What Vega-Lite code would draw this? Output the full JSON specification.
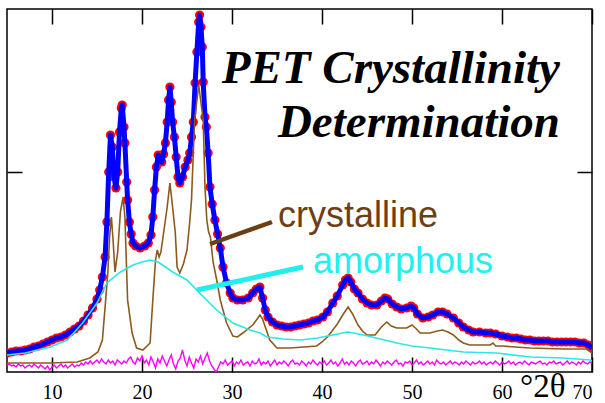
{
  "$schema": "https://vega.github.io/schema/vega-lite/v6.json",
  "width": 585,
  "height": 363,
  "autosize": {"type": "none"},
  "padding": {"left": 7, "top": 9, "right": 13, "bottom": 31},
  "background": "white",
  "config": {
    "view": {"stroke": "black", "strokeWidth": 1.5},
    "axis": {"grid": false, "domain": false, "tickColor": "black", "tickWidth": 1.5, "tickSize": -15, "labelFont": "Liberation Serif", "labelFontSize": 20, "labelColor": "black", "title": null, "labelPadding": 25}
  },
  "datasets": {
    "obs": [
      {"x":5.0,"y":19},{"x":5.5,"y":20},{"x":6.0,"y":21},{"x":6.5,"y":21},{"x":7.0,"y":22},{"x":7.5,"y":23},{"x":8.0,"y":25},{"x":8.5,"y":26},{"x":9.0,"y":28},{"x":9.5,"y":30},{"x":10.0,"y":32},{"x":10.5,"y":34},{"x":11.0,"y":35},{"x":11.5,"y":37},{"x":12.0,"y":40},{"x":12.5,"y":43},{"x":13.0,"y":46},{"x":13.5,"y":51},{"x":14.0,"y":57},{"x":14.5,"y":64},{"x":15.0,"y":73},{"x":15.3,"y":82},{"x":15.6,"y":95},{"x":15.9,"y":115},{"x":16.1,"y":150},{"x":16.3,"y":200},{"x":16.5,"y":237},{"x":16.7,"y":225},{"x":16.9,"y":195},{"x":17.1,"y":184},{"x":17.3,"y":200},{"x":17.5,"y":240},{"x":17.7,"y":264},{"x":17.8,"y":267},{"x":18.0,"y":245},{"x":18.1,"y":229},{"x":18.3,"y":190},{"x":18.4,"y":172},{"x":18.6,"y":150},{"x":18.8,"y":138},{"x":19.0,"y":129},{"x":19.3,"y":126},{"x":19.8,"y":124},{"x":20.3,"y":126},{"x":20.7,"y":129},{"x":21.0,"y":137},{"x":21.2,"y":155},{"x":21.4,"y":182},{"x":21.6,"y":205},{"x":21.8,"y":217},{"x":22.0,"y":213},{"x":22.2,"y":210},{"x":22.4,"y":218},{"x":22.6,"y":229},{"x":22.8,"y":250},{"x":22.95,"y":272},{"x":23.1,"y":285},{"x":23.25,"y":270},{"x":23.4,"y":250},{"x":23.6,"y":235},{"x":23.8,"y":215},{"x":24.0,"y":195},{"x":24.2,"y":189},{"x":24.5,"y":195},{"x":24.8,"y":205},{"x":25.1,"y":212},{"x":25.3,"y":219},{"x":25.5,"y":235},{"x":25.7,"y":250},{"x":25.9,"y":289},{"x":26.1,"y":320},{"x":26.3,"y":350},{"x":26.4,"y":357},{"x":26.55,"y":345},{"x":26.7,"y":325},{"x":26.8,"y":290},{"x":27.0,"y":255},{"x":27.15,"y":245},{"x":27.35,"y":219},{"x":27.55,"y":185},{"x":27.8,"y":168},{"x":28.1,"y":152},{"x":28.4,"y":138},{"x":28.7,"y":124},{"x":29.0,"y":105},{"x":29.4,"y":89},{"x":29.8,"y":79},{"x":30.1,"y":74},{"x":30.6,"y":72},{"x":31.2,"y":72},{"x":31.8,"y":74},{"x":32.3,"y":79},{"x":32.7,"y":83},{"x":33.1,"y":85},{"x":33.4,"y":74},{"x":33.7,"y":62},{"x":34.0,"y":55},{"x":34.5,"y":50},{"x":35.0,"y":47},{"x":35.5,"y":46},{"x":36.0,"y":45},{"x":36.5,"y":45},{"x":37.0,"y":46},{"x":37.5,"y":47},{"x":38.0,"y":48},{"x":38.5,"y":49},{"x":39.0,"y":51},{"x":39.5,"y":52},{"x":40.1,"y":55},{"x":40.6,"y":60},{"x":41.2,"y":69},{"x":41.7,"y":76},{"x":42.3,"y":87},{"x":42.6,"y":92},{"x":42.9,"y":94},{"x":43.2,"y":90},{"x":43.6,"y":83},{"x":44.0,"y":79},{"x":44.5,"y":73},{"x":45.0,"y":69},{"x":45.5,"y":67},{"x":46.1,"y":67},{"x":46.6,"y":71},{"x":47.0,"y":74},{"x":47.3,"y":73},{"x":47.8,"y":68},{"x":48.3,"y":65},{"x":48.8,"y":63},{"x":49.4,"y":64},{"x":49.9,"y":66},{"x":50.2,"y":64},{"x":50.6,"y":58},{"x":51.2,"y":54},{"x":51.8,"y":55},{"x":52.3,"y":57},{"x":52.9,"y":60},{"x":53.4,"y":60},{"x":53.9,"y":58},{"x":54.6,"y":54},{"x":55.2,"y":49},{"x":55.7,"y":45},{"x":56.3,"y":42},{"x":56.8,"y":40},{"x":57.5,"y":40},{"x":58.2,"y":39},{"x":58.7,"y":39},{"x":59.3,"y":38},{"x":60.0,"y":36},{"x":60.6,"y":35},{"x":61.1,"y":34},{"x":61.6,"y":34},{"x":62.1,"y":33},{"x":62.6,"y":32},{"x":63.1,"y":32},{"x":63.6,"y":31},{"x":64.1,"y":31},{"x":64.6,"y":31},{"x":65.1,"y":31},{"x":65.6,"y":30},{"x":66.1,"y":30},{"x":66.6,"y":30},{"x":67.1,"y":30},{"x":67.6,"y":30},{"x":68.1,"y":30},{"x":68.6,"y":29},{"x":69.1,"y":29},{"x":69.6,"y":27},{"x":70.0,"y":24}
    ],
    "cry": [
      {"x":5.0,"y":9},{"x":7.0,"y":9},{"x":9.8,"y":9},{"x":12.8,"y":10},{"x":14.2,"y":14},{"x":15.1,"y":20},{"x":15.6,"y":32},{"x":15.9,"y":65},{"x":16.2,"y":99},{"x":16.4,"y":135},{"x":16.6,"y":155},{"x":16.8,"y":130},{"x":17.0,"y":100},{"x":17.3,"y":120},{"x":17.6,"y":160},{"x":17.9,"y":175},{"x":18.1,"y":155},{"x":18.4,"y":72},{"x":18.9,"y":39},{"x":19.4,"y":24},{"x":20.1,"y":22},{"x":20.9,"y":29},{"x":21.2,"y":72},{"x":21.5,"y":112},{"x":21.7,"y":122},{"x":21.9,"y":115},{"x":22.1,"y":120},{"x":22.4,"y":139},{"x":22.8,"y":165},{"x":23.1,"y":189},{"x":23.4,"y":165},{"x":23.7,"y":139},{"x":23.9,"y":105},{"x":24.2,"y":99},{"x":24.6,"y":108},{"x":25.0,"y":122},{"x":25.3,"y":150},{"x":25.5,"y":172},{"x":25.7,"y":219},{"x":25.85,"y":252},{"x":26.3,"y":287},{"x":26.8,"y":252},{"x":27.0,"y":185},{"x":27.2,"y":152},{"x":27.4,"y":140},{"x":27.6,"y":135},{"x":27.9,"y":110},{"x":28.3,"y":92},{"x":28.7,"y":72},{"x":29.0,"y":62},{"x":29.4,"y":49},{"x":30.1,"y":36},{"x":30.6,"y":35},{"x":31.2,"y":39},{"x":32.3,"y":47},{"x":32.8,"y":53},{"x":33.1,"y":57},{"x":33.4,"y":53},{"x":33.7,"y":45},{"x":34.2,"y":32},{"x":35.0,"y":24},{"x":36.4,"y":24},{"x":38.0,"y":25},{"x":39.4,"y":26},{"x":40.0,"y":30},{"x":40.6,"y":35},{"x":41.2,"y":42},{"x":41.7,"y":48},{"x":42.3,"y":57},{"x":42.9,"y":65},{"x":43.4,"y":58},{"x":44.0,"y":47},{"x":44.5,"y":41},{"x":45.0,"y":37},{"x":45.9,"y":37},{"x":46.6,"y":45},{"x":47.2,"y":50},{"x":47.7,"y":46},{"x":48.3,"y":44},{"x":49.4,"y":44},{"x":50.0,"y":47},{"x":50.5,"y":43},{"x":50.9,"y":39},{"x":52.0,"y":39},{"x":52.8,"y":41},{"x":53.4,"y":42},{"x":54.0,"y":40},{"x":54.6,"y":37},{"x":55.2,"y":32},{"x":55.7,"y":29},{"x":56.4,"y":27},{"x":58.7,"y":27},{"x":59.0,"y":29},{"x":59.3,"y":26},{"x":60.0,"y":26},{"x":63.1,"y":24},{"x":66.8,"y":23},{"x":69.4,"y":23},{"x":70.0,"y":19}
    ],
    "amo": [
      {"x":5.0,"y":17},{"x":7.0,"y":19},{"x":9.8,"y":25},{"x":11.7,"y":32},{"x":13.4,"y":49},{"x":15.0,"y":69},{"x":16.1,"y":89},{"x":17.6,"y":100},{"x":19.0,"y":107},{"x":20.0,"y":110},{"x":20.9,"y":112},{"x":21.8,"y":110},{"x":22.6,"y":105},{"x":23.4,"y":100},{"x":25.0,"y":92},{"x":26.4,"y":79},{"x":28.3,"y":62},{"x":30.1,"y":49},{"x":32.0,"y":42},{"x":33.1,"y":39},{"x":33.9,"y":35},{"x":35.7,"y":33},{"x":37.6,"y":32},{"x":39.5,"y":34},{"x":41.2,"y":37},{"x":42.8,"y":40},{"x":43.5,"y":39},{"x":44.6,"y":37},{"x":46.5,"y":33},{"x":48.3,"y":29},{"x":50.0,"y":26},{"x":52.0,"y":24},{"x":55.7,"y":20},{"x":59.4,"y":19},{"x":63.1,"y":15},{"x":66.8,"y":14},{"x":69.8,"y":12},{"x":70.0,"y":11}
    ],
    "res": [
      {"x":5.0,"y":7},{"x":5.25,"y":8},{"x":5.5,"y":6},{"x":5.75,"y":7},{"x":6.0,"y":5},{"x":6.25,"y":8},{"x":6.5,"y":6},{"x":6.75,"y":7},{"x":7.0,"y":4},{"x":7.25,"y":6},{"x":7.5,"y":7},{"x":7.75,"y":5},{"x":8.0,"y":8},{"x":8.25,"y":6},{"x":8.5,"y":4},{"x":8.75,"y":7},{"x":9.0,"y":5},{"x":9.25,"y":3},{"x":9.5,"y":6},{"x":9.75,"y":2},{"x":10.0,"y":5},{"x":10.25,"y":7},{"x":10.5,"y":4},{"x":10.75,"y":6},{"x":11.0,"y":8},{"x":11.25,"y":5},{"x":11.5,"y":7},{"x":11.75,"y":4},{"x":12.0,"y":6},{"x":12.25,"y":8},{"x":12.5,"y":5},{"x":12.75,"y":7},{"x":13.0,"y":6},
      {"x":13.25,"y":9},{"x":13.5,"y":7},{"x":13.75,"y":10},{"x":14.0,"y":8},{"x":14.25,"y":11},{"x":14.5,"y":8},{"x":14.75,"y":10},{"x":15.0,"y":12},{"x":15.25,"y":9},{"x":15.5,"y":13},{"x":15.75,"y":10},{"x":16.0,"y":8},{"x":16.25,"y":12},{"x":16.5,"y":9},{"x":16.75,"y":11},{"x":17.0,"y":7},{"x":17.25,"y":12},{"x":17.5,"y":10},{"x":17.75,"y":8},{"x":18.0,"y":11},
      {"x":18.25,"y":9},{"x":18.5,"y":13},{"x":18.75,"y":15},{"x":19.0,"y":10},{"x":19.25,"y":8},{"x":19.5,"y":14},{"x":19.75,"y":11},{"x":20.0,"y":16},{"x":20.25,"y":9},{"x":20.5,"y":12},{"x":20.75,"y":7},{"x":21.0,"y":15},{"x":21.25,"y":10},{"x":21.5,"y":4},{"x":21.75,"y":13},{"x":22.0,"y":9},{"x":22.25,"y":16},{"x":22.5,"y":11},{"x":22.75,"y":6},{"x":23.0,"y":12},{"x":23.25,"y":17},{"x":23.5,"y":8},{"x":23.75,"y":3},{"x":24.0,"y":11},{"x":24.25,"y":14},{"x":24.5,"y":22},{"x":24.75,"y":12},{"x":25.0,"y":6},{"x":25.25,"y":15},{"x":25.5,"y":9},{"x":25.75,"y":4},{"x":26.0,"y":13},{"x":26.25,"y":10},{"x":26.5,"y":16},{"x":26.75,"y":8},{"x":27.0,"y":14},{"x":27.25,"y":19},{"x":27.5,"y":11},{"x":27.75,"y":6},{"x":28.0,"y":3},{"x":28.25,"y":0},{"x":28.5,"y":5},{"x":28.75,"y":10},{"x":29.0,"y":8},
      {"x":29.25,"y":12},{"x":29.5,"y":7},{"x":29.75,"y":9},{"x":30.0,"y":11},{"x":30.25,"y":6},{"x":30.5,"y":10},{"x":30.75,"y":8},{"x":31.0,"y":12},{"x":31.25,"y":7},{"x":31.5,"y":9},{"x":31.75,"y":10},{"x":32.0,"y":6},{"x":32.25,"y":11},{"x":32.5,"y":8},{"x":32.75,"y":9},{"x":33.0,"y":13},{"x":33.25,"y":7},{"x":33.5,"y":10},{"x":33.75,"y":8},{"x":34.0,"y":11},{"x":34.25,"y":6},{"x":34.5,"y":9},{"x":34.75,"y":12},{"x":35.0,"y":7},{"x":35.25,"y":10},{"x":35.5,"y":8},{"x":35.75,"y":11},{"x":36.0,"y":9},{"x":36.25,"y":6},{"x":36.5,"y":10},{"x":36.75,"y":12},{"x":37.0,"y":8},{"x":37.25,"y":9},{"x":37.5,"y":7},{"x":37.75,"y":11},{"x":38.0,"y":9},{"x":38.25,"y":6},{"x":38.5,"y":10},{"x":38.75,"y":8},{"x":39.0,"y":12},{"x":39.25,"y":9},{"x":39.5,"y":7},{"x":39.75,"y":10},{"x":40.0,"y":8},{"x":40.25,"y":11},{"x":40.5,"y":7},{"x":40.75,"y":9},{"x":41.0,"y":12},{"x":41.25,"y":8},{"x":41.5,"y":10},{"x":41.75,"y":6},{"x":42.0,"y":9},{"x":42.25,"y":13},{"x":42.5,"y":8},{"x":42.75,"y":10},{"x":43.0,"y":7},{"x":43.25,"y":11},{"x":43.5,"y":9},{"x":43.75,"y":6},{"x":44.0,"y":10},{"x":44.25,"y":12},{"x":44.5,"y":8},{"x":44.75,"y":9},{"x":45.0,"y":11},{"x":45.25,"y":7},{"x":45.5,"y":10},{"x":45.75,"y":8},{"x":46.0,"y":12},{"x":46.25,"y":9},{"x":46.5,"y":6},{"x":46.75,"y":10},{"x":47.0,"y":8},{"x":47.25,"y":11},{"x":47.5,"y":9},{"x":47.75,"y":7},{"x":48.0,"y":10},{"x":48.25,"y":12},{"x":48.5,"y":8},{"x":48.75,"y":9},{"x":49.0,"y":6},{"x":49.25,"y":10},{"x":49.5,"y":9},{"x":49.75,"y":11},{"x":50.0,"y":7},{"x":50.25,"y":9},{"x":50.5,"y":12},{"x":50.75,"y":8},{"x":51.0,"y":10},{"x":51.25,"y":7},{"x":51.5,"y":9},{"x":51.75,"y":11},{"x":52.0,"y":8},{"x":52.25,"y":10},{"x":52.5,"y":7},{"x":52.75,"y":12},{"x":53.0,"y":9},{"x":53.25,"y":8},{"x":53.5,"y":10},{"x":53.75,"y":7},{"x":54.0,"y":9},{"x":54.25,"y":11},{"x":54.5,"y":8},{"x":54.75,"y":10},{"x":55.0,"y":9},{"x":55.25,"y":7},{"x":55.5,"y":10},{"x":55.75,"y":8},{"x":56.0,"y":11},{"x":56.25,"y":9},{"x":56.5,"y":7},{"x":56.75,"y":10},{"x":57.0,"y":8},{"x":57.25,"y":9},{"x":57.5,"y":11},{"x":57.75,"y":8},{"x":58.0,"y":10},{"x":58.25,"y":7},{"x":58.5,"y":9},{"x":58.75,"y":10},{"x":59.0,"y":8},{"x":59.25,"y":11},{"x":59.5,"y":9},{"x":59.75,"y":7},{"x":60.0,"y":10},{"x":60.25,"y":8},{"x":60.5,"y":9},{"x":60.75,"y":11},{"x":61.0,"y":8},{"x":61.25,"y":10},{"x":61.5,"y":7},{"x":61.75,"y":9},{"x":62.0,"y":10},{"x":62.25,"y":8},{"x":62.5,"y":11},{"x":62.75,"y":9},{"x":63.0,"y":7},{"x":63.25,"y":10},{"x":63.5,"y":9},{"x":63.75,"y":8},{"x":64.0,"y":10},{"x":64.25,"y":11},{"x":64.5,"y":8},{"x":64.75,"y":9},{"x":65.0,"y":7},{"x":65.25,"y":10},{"x":65.5,"y":9},{"x":65.75,"y":11},{"x":66.0,"y":8},{"x":66.25,"y":9},{"x":66.5,"y":10},{"x":66.75,"y":7},{"x":67.0,"y":9},{"x":67.25,"y":11},{"x":67.5,"y":8},{"x":67.75,"y":10},{"x":68.0,"y":9},{"x":68.25,"y":7},{"x":68.5,"y":10},{"x":68.75,"y":8},{"x":69.0,"y":11},{"x":69.25,"y":9},{"x":69.5,"y":8},{"x":69.75,"y":10},{"x":70.0,"y":9}
    ]
  },
  "layer": [
    {
      "data": {"name": "obs"},
      "mark": {"type": "circle", "color": "#FF0000", "size": 85, "opacity": 1, "clip": true},
      "encoding": {
        "x": {"field": "x", "type": "quantitative", "scale": {"domain": [5, 70], "nice": false, "zero": false}, "axis": {"orient": "bottom", "values": [10, 20, 30, 40, 50, 60, 70]}},
        "y": {"field": "y", "type": "quantitative", "scale": {"domain": [0, 363], "nice": false, "zero": false}, "axis": {"orient": "left", "values": [200], "labels": false}}
      }
    },
    {
      "data": {"name": "obs"},
      "mark": {"type": "line", "color": "#0000FF", "strokeWidth": 5, "strokeJoin": "round", "clip": true},
      "encoding": {
        "x": {"field": "x", "type": "quantitative", "axis": {"orient": "top", "values": [10, 20, 30, 40, 50, 60, 70], "labels": false}},
        "y": {"field": "y", "type": "quantitative", "axis": {"orient": "right", "values": [200], "labels": false}}
      }
    },
    {
      "data": {"name": "cry"},
      "mark": {"type": "line", "color": "#8C5A1E", "strokeWidth": 1.6, "clip": true},
      "encoding": {
        "x": {"field": "x", "type": "quantitative", "axis": null},
        "y": {"field": "y", "type": "quantitative", "axis": null}
      }
    },
    {
      "data": {"name": "amo"},
      "mark": {"type": "line", "color": "#2EE6E6", "strokeWidth": 1.6, "clip": true},
      "encoding": {
        "x": {"field": "x", "type": "quantitative", "axis": null},
        "y": {"field": "y", "type": "quantitative", "axis": null}
      }
    },
    {
      "data": {"name": "res"},
      "mark": {"type": "line", "color": "#FF00FF", "strokeWidth": 1.4, "clip": true},
      "encoding": {
        "x": {"field": "x", "type": "quantitative", "axis": null},
        "y": {"field": "y", "type": "quantitative", "axis": null}
      }
    },
    {
      "data": {"values": [{"x": 27.56, "y": 128, "x2": 34.44, "y2": 150}]},
      "mark": {"type": "rule", "color": "#6B3F14", "strokeWidth": 4.5},
      "encoding": {
        "x": {"field": "x", "type": "quantitative", "axis": null},
        "y": {"field": "y", "type": "quantitative", "axis": null},
        "x2": {"field": "x2"},
        "y2": {"field": "y2"}
      }
    },
    {
      "data": {"values": [{"x": 26.11, "y": 82, "x2": 37.89, "y2": 105}]},
      "mark": {"type": "rule", "color": "#22EEEE", "strokeWidth": 5},
      "encoding": {
        "x": {"field": "x", "type": "quantitative", "axis": null},
        "y": {"field": "y", "type": "quantitative", "axis": null},
        "x2": {"field": "x2"},
        "y2": {"field": "y2"}
      }
    },
    {
      "data": {"values": [{"x": 35.1, "y": 145, "t": "crystalline"}]},
      "mark": {"type": "text", "font": "Liberation Sans", "fontSize": 36, "color": "#6E3E14", "align": "left", "baseline": "alphabetic"},
      "encoding": {
        "x": {"field": "x", "type": "quantitative", "axis": null},
        "y": {"field": "y", "type": "quantitative", "axis": null},
        "text": {"field": "t"}
      }
    },
    {
      "data": {"values": [{"x": 39.0, "y": 99, "t": "amorphous"}]},
      "mark": {"type": "text", "font": "Liberation Sans", "fontSize": 36, "color": "#22F0F0", "align": "left", "baseline": "alphabetic"},
      "encoding": {
        "x": {"field": "x", "type": "quantitative", "axis": null},
        "y": {"field": "y", "type": "quantitative", "axis": null},
        "text": {"field": "t"}
      }
    },
    {
      "data": {"values": [{"x": 66.44, "y": 289, "t": "PET Crystallinity"}, {"x": 66.44, "y": 235, "t": "Determination"}]},
      "mark": {"type": "text", "font": "Liberation Serif", "fontSize": 47, "fontStyle": "italic", "fontWeight": "bold", "color": "black", "align": "right", "baseline": "alphabetic"},
      "encoding": {
        "x": {"field": "x", "type": "quantitative", "axis": null},
        "y": {"field": "y", "type": "quantitative", "axis": null},
        "text": {"field": "t"}
      }
    },
    {
      "data": {"values": [{"x": 62.0, "y": -25, "t": "°2θ"}]},
      "mark": {"type": "text", "font": "Liberation Serif", "fontSize": 33, "color": "black", "align": "left", "baseline": "alphabetic", "clip": false},
      "encoding": {
        "x": {"field": "x", "type": "quantitative", "axis": null},
        "y": {"field": "y", "type": "quantitative", "axis": null},
        "text": {"field": "t"}
      }
    }
  ],
  "resolve": {"axis": {"x": "independent", "y": "independent"}}
}
